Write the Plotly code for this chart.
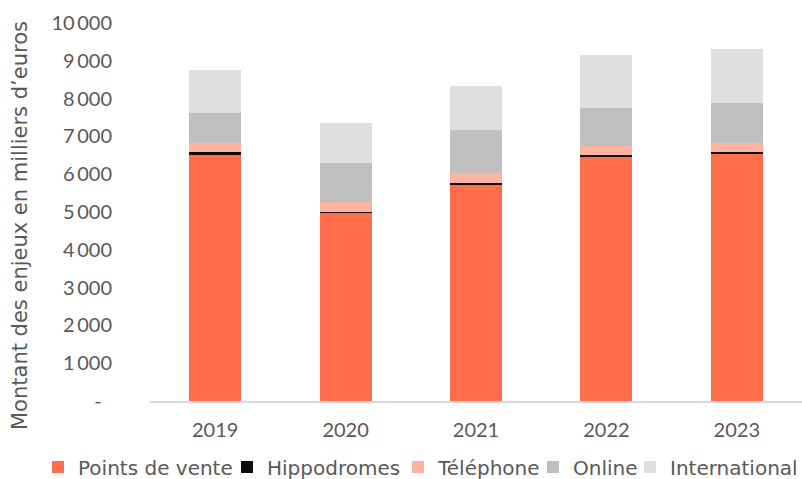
import plotly.graph_objects as go

years = ["2019", "2020", "2021", "2022", "2023"]
points_de_vente = [6525, 4975, 5715, 6465, 6535]
hippodromes = [50, 25, 40, 45, 50]
telephone = [250, 255, 270, 235, 230]
online = [800, 1050, 1135, 1000, 1065]
international = [1130, 1040, 1180, 1400, 1420]

series_names = ["Points de vente", "Hippodromes", "Téléphone", "Online", "International"]
series_values = [points_de_vente, hippodromes, telephone, online, international]
series_colors = ["#FF6E4A", "#0D0D0D", "#FFB4A1", "#BFBFBF", "#DFDFDF"]

y_tickvals = [0, 1000, 2000, 3000, 4000, 5000, 6000, 7000, 8000, 9000, 10000]
y_ticktext = ["-\u00a0\u00a0", "1\u2009000", "2\u2009000", "3\u2009000", "4\u2009000", "5\u2009000",
              "6\u2009000", "7\u2009000", "8\u2009000", "9\u2009000", "10\u2009000"]
y_title = "Montant des enjeux en milliers d\u2019euros"

# left edge (px) of each legend block
legend_x = [38, 227, 398, 533, 630]

FONT = "Lato"
FONT2 = "DejaVu Sans"
GREY = "#595959"
W, H = 802, 479
L, T, B = 150, 23, 78
PLOT_W, PLOT_H = W - L, H - T - B

fig = go.Figure()
for i, (name, vals, col) in enumerate(zip(series_names, series_values, series_colors)):
    lg = "legend" if i == 0 else f"legend{i+1}"
    fig.add_trace(go.Bar(
        x=years, y=vals, name=name,
        marker=dict(color=col, line=dict(width=0)),
        legend=lg, showlegend=True,
    ))

layout_legends = {}
for i in range(5):
    key = "legend" if i == 0 else f"legend{i+1}"
    layout_legends[key] = dict(
        xref="container", yref="container",
        x=legend_x[i] / W, y=(H - 467) / H,
        xanchor="left", yanchor="middle",
        orientation="h",
        font=dict(family=FONT2, size=20, color=GREY),
        bgcolor="rgba(0,0,0,0)",
        itemwidth=30,
        borderwidth=0,
        visible=True,
    )

fig.update_layout(
    barmode="stack",
    bargap=0.6,
    showlegend=True,
    width=W, height=H,
    margin=dict(l=L, r=0, t=T, b=B),
    plot_bgcolor="white",
    paper_bgcolor="white",
    font=dict(family=FONT, size=20, color=GREY),
    **layout_legends,
)

# y-axis title, centred as in the reference
fig.add_annotation(
    text=y_title, textangle=-90,
    xref="paper", yref="paper",
    x=(20 - L) / PLOT_W, y=(H - B - 226) / PLOT_H,
    xanchor="center", yanchor="middle",
    showarrow=False,
    font=dict(family=FONT2, size=21, color=GREY),
)

fig.update_yaxes(
    range=[0, 10000],
    tickvals=y_tickvals,
    ticktext=y_ticktext,
    showgrid=False,
    zeroline=False,
    showline=False,
    ticks="",
    ticklabelstandoff=37,
    tickfont=dict(family=FONT, size=20, color=GREY),
)
fig.update_xaxes(
    showgrid=False,
    showline=True,
    linecolor="#D9D9D9",
    linewidth=1.5,
    ticks="",
    ticklabelstandoff=10,
    tickfont=dict(family=FONT, size=20, color=GREY),
)

fig.write_html("out.html")
